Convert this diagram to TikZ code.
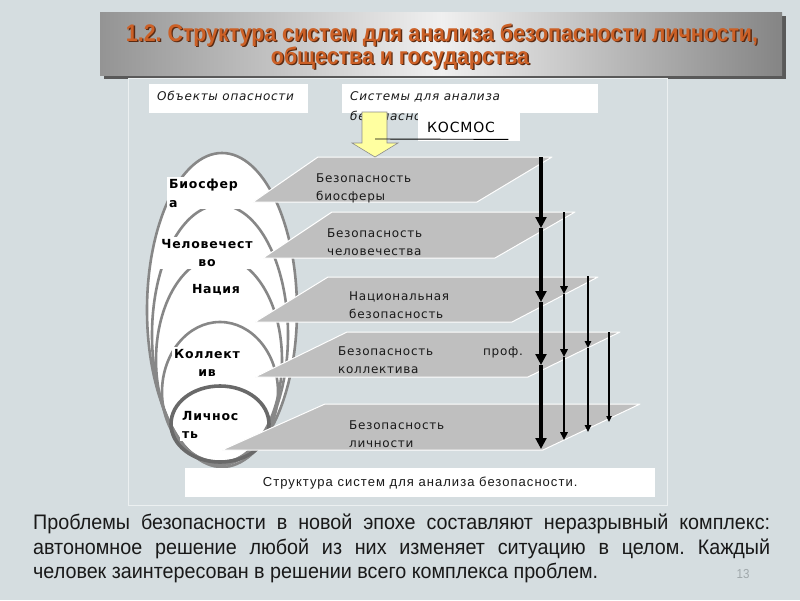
\documentclass[tikz,border=0pt]{standalone}
\usepackage{fontspec}
\setmainfont{Liberation Sans}
\newfontfamily\diafont[LetterSpace=6]{DejaVu Sans}
\newfontfamily\capfont[LetterSpace=8]{Liberation Sans}
\newfontfamily\narrowfont[FakeStretch=0.89]{Liberation Sans}
\newfontfamily\bodyfont[FakeStretch=0.94]{Liberation Sans}
\usetikzlibrary{arrows.meta, positioning}
\definecolor{slidebg}{RGB}{213,221,224}
\definecolor{panelline}{RGB}{236,240,241}
\definecolor{planegray}{RGB}{191,191,191}
\definecolor{ovalgray}{RGB}{135,135,135}
\definecolor{ovaldark}{RGB}{105,105,105}
\definecolor{titleorange}{RGB}{204,96,38}
\definecolor{titleshadow}{RGB}{90,42,18}
\definecolor{arrowyellow}{RGB}{255,255,160}
\definecolor{textdark}{RGB}{25,25,25}
\definecolor{pagegray}{RGB}{160,168,171}
\tikzset{
  plane/.style={fill=planegray, draw=white, line width=1pt, line join=round},
  planetext/.style={font=\diafont\fontsize{12}{17.5}\selectfont, align=left,
    anchor=north west, inner sep=0pt, text=textdark},
  objlabel/.style={fill=white, font=\diafont\bfseries\fontsize{12.5}{18.5}\selectfont,
    align=center, inner sep=2pt},
  oval/.style={draw=ovalgray, line width=2.6pt},
  hdrbox/.style={fill=white, anchor=north west, inner sep=0pt},
  hdrtext/.style={font=\diafont\itshape\fontsize{12}{20}\selectfont, align=left,
    anchor=north west, inner sep=0pt, text=textdark},
  downarrow/.style={-{Triangle[length=3pt 2, width=2pt 2.2]}, line width=#1},
  titletext/.style={font=\narrowfont\bfseries\fontsize{24}{26}\selectfont, anchor=base},
  bodytext/.style={font=\bodyfont\fontsize{21}{24}\selectfont, text=textdark,
    anchor=base west, inner sep=0pt}
}

\begin{document}
\frenchspacing
\begin{tikzpicture}[x=1pt, y=-1pt]
  % Slide background
  \fill[slidebg] (0,0) rectangle (800,600);
  \useasboundingbox (0,0) rectangle (800,600);

  % Title banner with shadow
  \fill[black!65] (104,16) rectangle (786,79);
  \shade[left color=black!42, right color=black!48, middle color=black!6] (100,12) rectangle (782,75);
  \node[titletext, text=titleshadow] (title1s) at (443.3,42.3) {1.2. Структура систем для анализа безопасности личности,};
  \node[titletext, text=titleorange] (title1) at (442,41) {1.2. Структура систем для анализа безопасности личности,};
  \node[titletext, text=titleshadow] (title2s) at (401.3,65.3) {общества и государства};
  \node[titletext, text=titleorange] (title2) at (400,64) {общества и государства};

  % Frame of the picture
  \draw[panelline, line width=1pt] (128,78) rectangle (667,505);

  % Header boxes
  \node[hdrbox, minimum width=159pt, minimum height=29pt] (objbox) at (149,84) {};
  \node[hdrtext] (objhdr) at (157,91) {Объекты опасности};
  \node[hdrbox, minimum width=256pt, minimum height=29pt] (sysbox) at (342,84) {};
  \node[hdrtext] (syshdr) at (350,91) {Системы для анализа\\безопасности};

  % Nested objects of danger
  \draw[oval, fill=white] (222,310) ellipse [x radius=75, y radius=157];
  \draw[oval] (220,335) ellipse [x radius=68, y radius=130];
  \draw[oval] (219,360) ellipse [x radius=63, y radius=103];
  \draw[oval] (220,392) ellipse [x radius=58, y radius=70];
  \draw[oval, draw=ovaldark, line width=3.6pt] (220,424) ellipse [x radius=49, y radius=38];

  \node[objlabel, anchor=north west, align=left, text width=80pt] (bio) at (167,177) {Биосфер\\а};
  \node[objlabel] (hum) at (207,253) {Человечест\\во};
  \node[objlabel] (nat) at (216,290) {Нация};
  \node[objlabel] (coll) at (207,363) {Коллект\\ив};
  \node[objlabel, anchor=north west, align=left] (pers) at (180,409) {Личнос\\ть};

  % Levels of safety systems
  \draw[plane] (318,157) -- (552,157) -- (477,202) -- (253,202) -- cycle;
  \draw[plane] (332,212) -- (575,212) -- (495,258) -- (263,258) -- cycle;
  \draw[plane] (328,277) -- (598,277) -- (512,322) -- (255,322) -- cycle;
  \draw[plane] (347,332) -- (620,332) -- (528,377) -- (255,377) -- cycle;
  \draw[plane] (325,404) -- (640,404) -- (543,450) -- (222,450) -- cycle;

  \node[planetext] (sbio) at (316,174) {Безопасность\\биосферы};
  \node[planetext] (shum) at (327,229) {Безопасность\\человечества};
  \node[planetext] (snat) at (349,292) {Национальная\\безопасность};
  \node[planetext] (scoll) at (338,347) {Безопасность\hspace{50pt}проф.\\коллектива};
  \node[planetext] (spers) at (349,421) {Безопасность\\личности};

  % Influence arrows between levels
  \foreach \y [count=\i from 0] in {157,228,302,365,449}
    \coordinate (ra-\i) at (541,\y);
  \foreach \y [count=\i from 0] in {212,294,357,440}
    \coordinate (rb-\i) at (564,\y);
  \foreach \y [count=\i from 0] in {276,348,432}
    \coordinate (rc-\i) at (588,\y);
  \foreach \y [count=\i from 0] in {332,422}
    \coordinate (rd-\i) at (609,\y);
  \foreach \i [remember=\i as \j (initially 0)] in {1,...,4}
    \draw[downarrow=4pt] (ra-\j) -- (ra-\i);
  \foreach \i [remember=\i as \j (initially 0)] in {1,...,3}
    \draw[downarrow=2.4pt] (rb-\j) -- (rb-\i);
  \foreach \i [remember=\i as \j (initially 0)] in {1,2}
    \draw[downarrow=2pt] (rc-\j) -- (rc-\i);
  \draw[downarrow=1.4pt] (rd-0) -- (rd-1);

  % Yellow arrow from space
  \draw[fill=arrowyellow, draw=black!45, line width=0.6pt]
    (362,112) -- (387,112) -- (387,143) -- (398,143) -- (375,157)
    -- (352,143) -- (362,143) -- cycle;
  \coordinate (arrowmid) at (375,139);
  \node[hdrbox, minimum width=102pt, minimum height=28pt, text width=84pt, inner xsep=9pt,
    align=left, font=\diafont\fontsize{14}{16}\selectfont] (kosmos) at (418,113) {КОСМОС};
  \draw[line width=0.9pt] (arrowmid) -- ([xshift=-12pt, yshift=2pt]kosmos.south east);

  % Caption
  \node[hdrbox, minimum width=470pt, minimum height=29pt, text=textdark,
    font=\capfont\fontsize{13}{15}\selectfont] (caption) at (185,468) {Структура систем для анализа безопасности.};

  % Text below the picture
  \node[bodytext] (para1) at (33,529) {\makebox[737pt][s]{Проблемы безопасности в новой эпохе составляют неразрывный комплекс:}};
  \node[bodytext] (para2) at (33,554) {\makebox[737pt][s]{автономное решение любой из них изменяет ситуацию в целом. Каждый}};
  \node[bodytext] (para3) at (33,578) {человек заинтересован в решении всего комплекса проблем.};
  \node[font=\narrowfont\fontsize{13}{14}\selectfont, text=pagegray, anchor=base] (pagenum) at (743,578) {13};
\end{tikzpicture}
\end{document}
